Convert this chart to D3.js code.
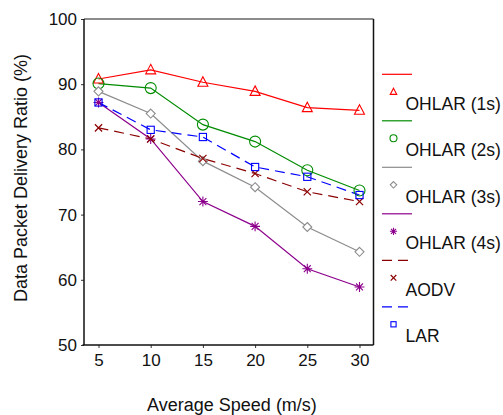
<!DOCTYPE html>
<html>
<head>
<meta charset="utf-8">
<script src="https://cdn.jsdelivr.net/npm/d3@7"></script>
<style>
  body { margin: 0; background: #fff; }
  svg text { font-family: "Liberation Sans", Arial, sans-serif; fill: #111; }
</style>
</head>
<body>
<svg id="chart" width="503" height="415"></svg>
<script>
// data
const speeds = [5, 10, 15, 20, 25, 30];
const ohlar1 = [90.8, 92.2, 90.3, 88.9, 86.4, 86.0];
const ohlar2 = [90.1, 89.4, 83.8, 81.2, 76.8, 73.7];
const ohlar3 = [88.9, 85.5, 78.2, 74.2, 68.1, 64.3];
const ohlar4 = [87.2, 81.6, 72.0, 68.2, 61.7, 58.9];
const aodv   = [83.3, 81.6, 78.6, 76.3, 73.5, 72.0];
const lar    = [87.2, 83.0, 81.9, 77.3, 75.8, 73.0];
const yTicks = [50, 60, 70, 80, 90, 100];

const series = [
  { name: "OHLAR (1s)", vals: ohlar1, color: "#ff0000", dash: null, mark: "tri" },
  { name: "OHLAR (2s)", vals: ohlar2, color: "#008c00", dash: null, mark: "circ" },
  { name: "OHLAR (3s)", vals: ohlar3, color: "#8c8c8c", dash: null, mark: "dia" },
  { name: "OHLAR (4s)", vals: ohlar4, color: "#8c008c", dash: null, mark: "star" },
  { name: "AODV", vals: aodv, color: "#8b0000", dash: "10,6", mark: "cross" },
  { name: "LAR", vals: lar, color: "#0000ff", dash: "10,6", mark: "sq" }
];

const svg = d3.select("#chart");
const box = { l: 84, r: 373.5, t: 19, b: 345 };

const x = d3.scaleLinear().domain([5, 30]).range([98.5, 359.5]);
const y = d3.scaleLinear().domain([50, 100]).range([box.b, box.t]);

// axes
const gy = svg.append("g").attr("transform", `translate(${box.l},0)`)
  .call(d3.axisLeft(y).tickValues(yTicks).tickSize(3).tickPadding(4));
const gx = svg.append("g").attr("transform", `translate(0,${box.b})`)
  .call(d3.axisBottom(x).tickValues(speeds).tickSize(3).tickPadding(6));
[gx, gy].forEach(g => {
  g.select(".domain").remove();
  g.selectAll("text").style("font-size", "17px").attr("fill", "#111");
  g.selectAll("line").attr("stroke", "#333");
});

// frame
svg.append("line").attr("x1", box.l).attr("x2", box.r).attr("y1", box.t).attr("y2", box.t)
  .attr("stroke", "#666").attr("stroke-width", 1.5);
svg.append("line").attr("x1", box.r).attr("x2", box.r).attr("y1", box.t).attr("y2", box.b)
  .attr("stroke", "#111").attr("stroke-width", 1.5);
svg.append("line").attr("x1", box.l).attr("x2", box.l).attr("y1", box.t).attr("y2", box.b)
  .attr("stroke", "#111").attr("stroke-width", 1.5);
svg.append("line").attr("x1", box.l - 1.5).attr("x2", box.r).attr("y1", box.b).attr("y2", box.b)
  .attr("stroke", "#111").attr("stroke-width", 1.5);

// axis titles
svg.append("text").attr("x", 232).attr("y", 411).attr("text-anchor", "middle")
  .style("font-size", "18px").text("Average Speed (m/s)");
svg.append("text").attr("transform", "translate(27,178) rotate(-90)")
  .attr("text-anchor", "middle").style("font-size", "18px")
  .text("Data Packet Delivery Ratio (%)");

function marker(g, type, cx, cy, s, color) {
  const h = s / 2;
  if (type === "tri") {
    g.append("path").attr("d", `M${cx},${cy - h * 1.1}L${cx + h},${cy + h * 0.8}L${cx - h},${cy + h * 0.8}Z`)
      .attr("fill", "none").attr("stroke", color).attr("stroke-width", 1.1);
  } else if (type === "circ") {
    g.append("circle").attr("cx", cx).attr("cy", cy).attr("r", h)
      .attr("fill", "none").attr("stroke", color).attr("stroke-width", 1.1);
  } else if (type === "dia") {
    g.append("path").attr("d", `M${cx},${cy - h}L${cx + h},${cy}L${cx},${cy + h}L${cx - h},${cy}Z`)
      .attr("fill", "#fff").attr("stroke", color).attr("stroke-width", 1.1);
  } else if (type === "sq") {
    g.append("rect").attr("x", cx - h * 0.8).attr("y", cy - h * 0.8)
      .attr("width", h * 1.6).attr("height", h * 1.6)
      .attr("fill", "none").attr("stroke", color).attr("stroke-width", 1.1);
  } else if (type === "cross") {
    const a = h * 0.8;
    g.append("path").attr("d", `M${cx - a},${cy - a}L${cx + a},${cy + a}M${cx - a},${cy + a}L${cx + a},${cy - a}`)
      .attr("stroke", color).attr("stroke-width", 1.2);
  } else if (type === "star") {
    const a = h * 0.9;
    g.append("path").attr("d",
      `M${cx - a},${cy}L${cx + a},${cy}M${cx - a * 0.7},${cy - a * 0.7}L${cx + a * 0.7},${cy + a * 0.7}` +
      `M${cx - a * 0.7},${cy + a * 0.7}L${cx + a * 0.7},${cy - a * 0.7}M${cx},${cy - a}L${cx},${cy + a}`)
      .attr("stroke", color).attr("stroke-width", 1.1);
  }
}

const markSize = { tri: 10, circ: 11, dia: 9, star: 11, cross: 9, sq: 9 };
const legendSize = { tri: 6.5, circ: 7, dia: 6.5, star: 8, cross: 7, sq: 6.5 };
const line = d3.line().x((d, i) => x(speeds[i])).y(d => y(d));

series.forEach(s => {
  svg.append("path").datum(s.vals).attr("d", line)
    .attr("fill", "none").attr("stroke", s.color).attr("stroke-width", 1.2)
    .attr("stroke-dasharray", s.dash);
});
series.forEach(s => {
  const g = svg.append("g");
  s.vals.forEach((v, i) => marker(g, s.mark, x(speeds[i]), y(v), markSize[s.mark], s.color));
});

// legend
series.forEach((s, i) => {
  const ly = 74.3 + i * 46.5;
  const g = svg.append("g");
  g.append("line").attr("x1", 382).attr("x2", 412).attr("y1", ly).attr("y2", ly)
    .attr("stroke", s.color).attr("stroke-width", 1.2).attr("stroke-dasharray", s.dash);
  marker(g, s.mark, 393.5, ly + 17.5, legendSize[s.mark], s.color);
  g.append("text").attr("x", 405.5).attr("y", ly + 35.5).style("font-size", "17.5px").text(s.name);
});
</script>
</body>
</html>
